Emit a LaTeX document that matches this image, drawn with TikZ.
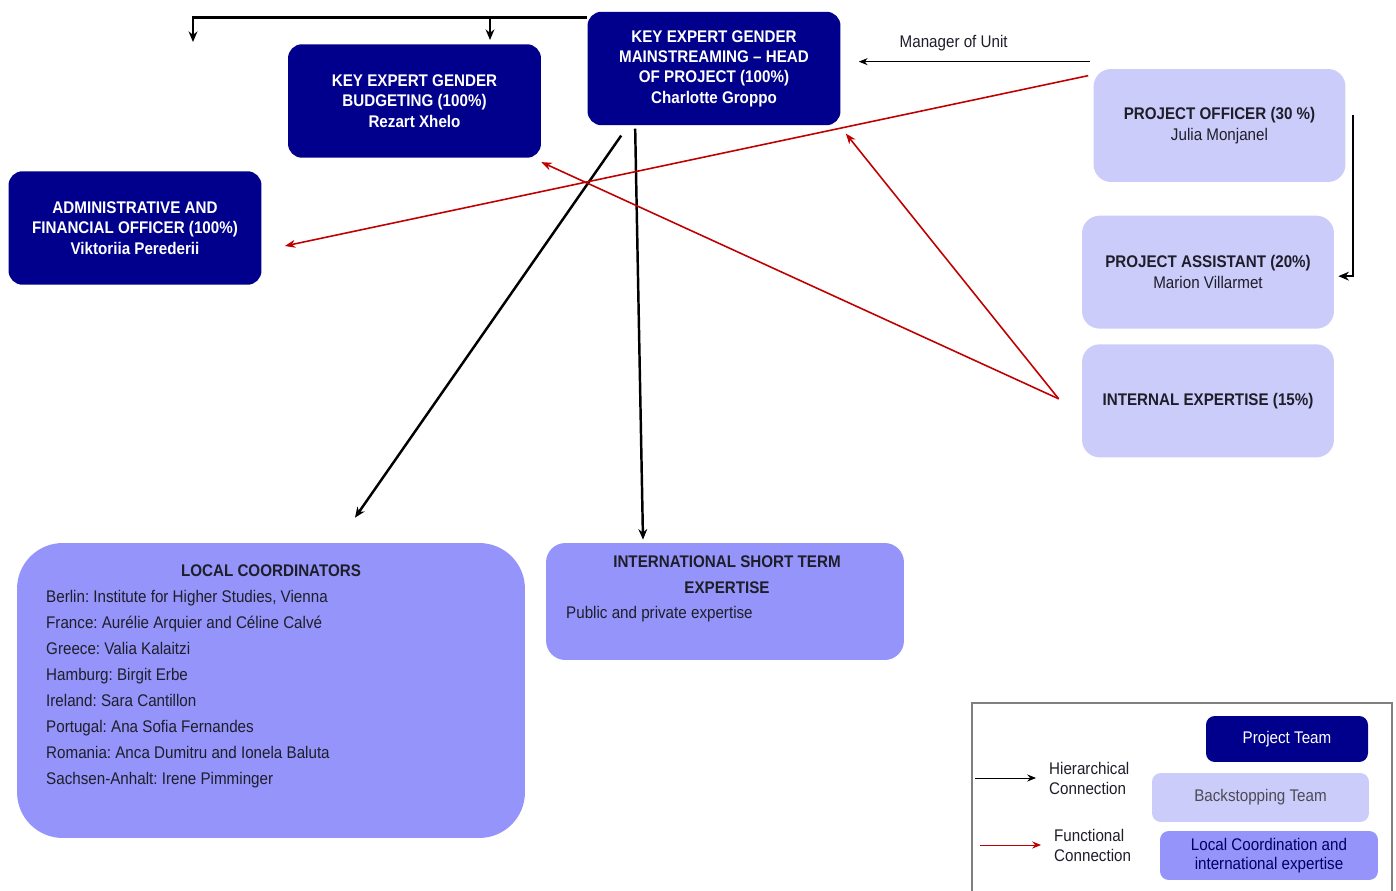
\documentclass[tikz,border=0pt]{standalone}
\usepackage{fontspec}
\setmainfont{Liberation Sans}[FakeStretch=0.9]
\usetikzlibrary{arrows.meta,positioning}
\definecolor{teamnavy}{HTML}{00008C}
\definecolor{backlilac}{HTML}{CCCCFA}
\definecolor{localblue}{HTML}{9494FA}
\definecolor{funcred}{HTML}{C00000}
\definecolor{inkgray}{HTML}{1E1E2A}
\frenchspacing

\begin{document}
\begin{tikzpicture}[x=0.02cm, y=-0.02cm,
  team/.style={fill=teamnavy, rounded corners=8pt,
               minimum width=5.06cm, minimum height=2.27cm,
               text=white, align=center,
               font=\fontsize{9.6}{11.6}\selectfont\bfseries},
  backstop/.style={fill=backlilac, rounded corners=10pt,
                   minimum width=5.04cm, minimum height=2.26cm,
                   text=inkgray, align=center,
                   font=\fontsize{9.6}{12.2}\selectfont},
  localbox/.style={fill=localblue, rounded corners=11pt},
  listtext/.style={text=inkgray, font=\fontsize{9.6}{14.8}\selectfont},
  legtext/.style={text=inkgray, align=left, font=\fontsize{9.6}{11.4}\selectfont},
  hier/.style={-{Stealth[length=6pt,width=5pt]}, line width=1.4pt, black},
  func/.style={-{Stealth[length=6pt,width=4.5pt]}, line width=0.9pt, funcred},
  thinarr/.style={-{Stealth[length=5pt,width=4pt]}, line width=0.5pt},
]
  \useasboundingbox (0,0) rectangle (1396,891);

  %% Project team (dark boxes)
  \node[team] (head) at (714,68.5)
    {KEY EXPERT GENDER\\MAINSTREAMING – HEAD\\OF PROJECT (100\%)\\Charlotte Groppo};
  \node[team] (budget) at (414.5,101)
    {KEY EXPERT GENDER\\BUDGETING (100\%)\\Rezart Xhelo};
  \node[team] (admin) at (135,228)
    {ADMINISTRATIVE AND\\FINANCIAL OFFICER (100\%)\\Viktoriia Perederii};

  %% Backstopping team (right column)
  \node[backstop] (po) at (1219.5,125.5)
    {\textbf{PROJECT OFFICER (30 \%)}\\Julia Monjanel};
  \node[backstop, below=0.66cm of po, xshift=-0.23cm] (pa)
    {\textbf{PROJECT ASSISTANT (20\%)}\\Marion Villarmet};
  \node[backstop, below=0.3cm of pa] (ie)
    {\textbf{INTERNAL EXPERTISE (15\%)}};

  %% Local coordination and international expertise
  \node[localbox, rounded corners=26pt, minimum width=10.16cm, minimum height=5.9cm]
    (lc) at (271,690.5) {};
  \node[listtext, font=\fontsize{9.6}{14.8}\selectfont\bfseries] (lctitle) at (271,571)
    {LOCAL COORDINATORS};
  \node[listtext, anchor=west, align=left] (lclist) at (40,689)
    {Berlin: Institute for Higher Studies, Vienna\\
     France: Aurélie Arquier and Céline Calvé\\
     Greece: Valia Kalaitzi\\
     Hamburg: Birgit Erbe\\
     Ireland: Sara Cantillon\\
     Portugal: Ana Sofia Fernandes\\
     Romania: Anca Dumitru and Ionela Baluta\\
     Sachsen-Anhalt: Irene Pimminger};

  \node[localbox, minimum width=7.16cm, minimum height=2.34cm] (is) at (725,601.5) {};
  \node[listtext, align=center, font=\fontsize{9.6}{14.8}\selectfont\bfseries]
    (istitle) at (727,575) {INTERNATIONAL SHORT TERM\\EXPERTISE};
  \node[listtext, anchor=west] (istext) at (560,614) {Public and private expertise};

  %% Hierarchical connections
  \coordinate (topline) at ([yshift=-0.12cm]head.north west);
  \coordinate (dropleft) at (193,42);
  \coordinate (dropmid) at (490,40);
  \draw[hier] (topline) -| (dropleft);
  \draw[hier] (topline -| dropmid) -- (dropmid);
  \draw[hier] ([shift={(34,10)}]head.south west) -- ([shift={(84,-25)}]lc.north);
  \draw[hier] ([shift={(48,3)}]head.south west) -- ([shift={(-82,-3)}]is.north);
  \draw[hier] ([shift={(7,-10)}]po.east) |- ([shift={(4,4)}]pa.east);
  \coordinate (mgrfrom) at ([shift={(-3,-7)}]po.north west);
  \coordinate (mgrto) at ([xshift=0.36cm]head.east);
  \draw[thinarr] (mgrfrom) --
    node[pos=0.59, above=0.08cm, legtext] (mgrlbl) {Manager of Unit}
    (mgrfrom -| mgrto);

  %% Functional connections
  \draw[func] ([shift={(-5,7)}]po.north west) -- ([shift={(23,18)}]admin.east);
  \draw[func] ([shift={(-23,-2)}]ie.west) -- ([shift={(0,4)}]budget.south east);
  \draw[func] ([shift={(-23,-2)}]ie.west) -- ([shift={(5,8)}]head.south east);

  %% Legend
  \draw[gray, line width=0.6pt] (972,891) |- (1392,703) -- (1392,891);
  \node[team, minimum width=3.24cm, minimum height=0.92cm, rounded corners=5pt,
        font=\fontsize{9.6}{11}\selectfont] (legteam) at (1287,739) {Project Team};
  \node[backstop, minimum width=4.34cm, minimum height=0.98cm, rounded corners=5pt,
        text=inkgray!80] (legback) at (1260.5,797.5) {Backstopping Team};
  \node[localbox, minimum width=4.36cm, minimum height=0.98cm, rounded corners=5pt,
        align=center, text=teamnavy!70!black, font=\fontsize{9.6}{11}\selectfont]
    (leglocal) at (1269,855.5) {Local Coordination and\\international expertise};

  \coordinate (hierfrom) at (975,778);
  \node[legtext, anchor=west] (hierlbl) at (1043,778) {Hierarchical\\Connection};
  \draw[thinarr] (hierfrom) -- ([xshift=-0.14cm]hierlbl.west);
  \coordinate (funcfrom) at (980,845);
  \node[legtext, anchor=west] (funclbl) at (1048,845) {Functional\\Connection};
  \draw[thinarr, funcred] (funcfrom) -- ([xshift=-0.14cm]funclbl.west);
\end{tikzpicture}
\end{document}
